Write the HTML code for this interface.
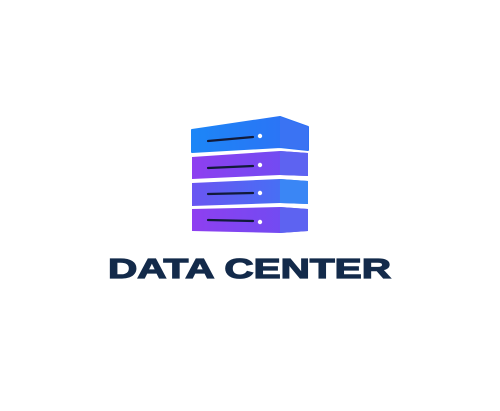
<!DOCTYPE html>
<html><head><style>html,body{margin:0;padding:0;background:#fff;width:500px;height:411px;overflow:hidden}</style></head>
<body>
<svg width="500" height="411" xmlns="http://www.w3.org/2000/svg">
<defs>
<linearGradient id="b1" x1="0" y1="0" x2="1" y2="0"><stop offset="0" stop-color="#1c86f7"/><stop offset="1" stop-color="#2f6ff5"/></linearGradient>
<linearGradient id="p" x1="0" y1="0" x2="1" y2="0"><stop offset="0" stop-color="#8e3ff0"/><stop offset="1" stop-color="#6a4ef2"/></linearGradient>
<linearGradient id="b3" x1="0" y1="0" x2="1" y2="0"><stop offset="0" stop-color="#6a55f2"/><stop offset="1" stop-color="#3c77f5"/></linearGradient>
</defs>
<g stroke-linejoin="round">
<polygon points="192,130 280,117 308,127 308,150 280,147 192,152" fill="url(#b1)" stroke="url(#b1)" stroke-width="2"/>
<polygon points="280,117 308,127 308,150 280,147" fill="#3a73f3"/>
<polygon points="192,157 280,151 308,153 308,176 280,175 192,179" fill="url(#p)"/>
<polygon points="280,151 308,153 308,176 280,175" fill="#5d63f1"/>
<polygon points="192,183 280,179 308,181 308,204 280,203 192,206" fill="url(#b3)"/>
<polygon points="280,179 308,181 308,204 280,203" fill="#3a86f5"/>
<polygon points="192,209 280,207 308,209 308,231 280,233 192,231" fill="url(#p)"/>
<polygon points="280,207 308,209 308,231 280,233" fill="#5d63f1"/>
</g>
<g stroke="#111a3a" stroke-width="2.2" stroke-linecap="round">
<line x1="208" y1="141" x2="253" y2="137"/>
<line x1="208" y1="168" x2="253" y2="166"/>
<line x1="208" y1="194" x2="253" y2="193"/>
<line x1="208" y1="220" x2="253" y2="221"/>
</g>
<g fill="#fff">
<circle cx="260" cy="136" r="2.2"/>
<circle cx="260" cy="165" r="2.2"/>
<circle cx="260" cy="193" r="2.2"/>
<circle cx="260" cy="222" r="2.2"/>
</g>
<text x="108" y="278" font-family="Liberation Sans, sans-serif" font-weight="bold" font-size="28" fill="#132a4a" stroke="#132a4a" stroke-width="1.2" textLength="283" lengthAdjust="spacingAndGlyphs">DATA CENTER</text>
</svg>
</body></html>
